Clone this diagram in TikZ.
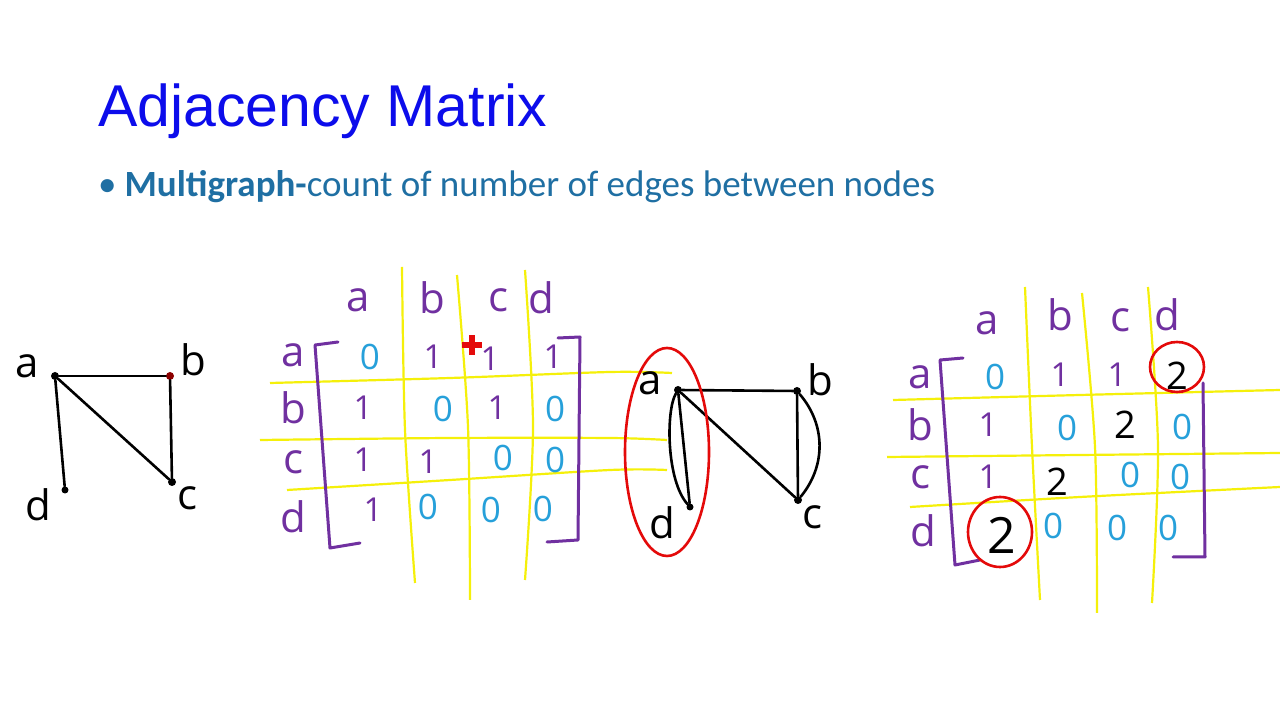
\documentclass[tikz,border=0pt]{standalone}
\usepackage{fontspec}
\setmainfont{Liberation Sans}
\newfontfamily\calfont{Carlito}
\newfontfamily\handfont{Open Sans}
\usetikzlibrary{positioning}
\definecolor{ttlblue}{RGB}{12,12,235}
\definecolor{subblue}{RGB}{31,111,163}
\definecolor{mpurple}{RGB}{112,48,160}
\definecolor{mcyan}{RGB}{38,160,218}
\definecolor{myellow}{RGB}{245,240,10}
\definecolor{mred}{RGB}{228,10,10}
\tikzset{
  lbl/.style={text=mpurple,font=\handfont\fontsize{42}{46}\selectfont,inner sep=0pt},
  one/.style={text=mpurple,font=\handfont\fontsize{33}{36}\selectfont,inner sep=0pt},
  zer/.style={text=mcyan,font=\handfont\fontsize{35}{38}\selectfont,inner sep=0pt},
  two/.style={text=black,font=\handfont\fontsize{38}{42}\selectfont,inner sep=0pt},
  glbl/.style={text=black,font=\handfont\fontsize{42}{46}\selectfont,inner sep=0pt},
  vtx/.style={circle,fill=black,inner sep=0pt,minimum size=8pt},
  edg/.style={line width=2.6pt,line cap=round,line join=round},
  ylin/.style={myellow,line width=2.2pt},
  brk/.style={mpurple,line width=3pt,line join=round,line cap=round},
  hil/.style={mred,line width=2.6pt}
}

\begin{document}
\begin{tikzpicture}[x=1pt,y=1pt]
  \fill[white] (0,0) rectangle (1280,720);
  \useasboundingbox (0,0) rectangle (1280,720);

  % heading
  \node[anchor=base west,inner sep=0pt,text=ttlblue,font=\fontsize{59}{64}\selectfont] (title) at (98,593) {Adjacency Matrix};
  \node[anchor=base west,inner sep=0pt,text=subblue,font=\calfont\fontsize{37}{42}\selectfont] (sub) at (98,523)
    {\textbullet\hskip 8pt\textbf{Multigraph-}count of number of edges between nodes};

  % simple graph
  \node[vtx] (ga) at (55,344) {};
  \node[vtx,fill=red!55!black] (gb) at (170,344) {};
  \node[vtx] (gc) at (172,238) {};
  \node[vtx,minimum size=7pt] (gd) at (65,230) {};
  \node[glbl] at (27,354) {a};
  \node[glbl] at (193,360) {b};
  \node[glbl] at (187,222) {c};
  \node[glbl] at (38,215) {d};
  \draw[edg] (ga)--(gb);
  \draw[edg] (ga)--(gc);
  \draw[edg] (gb)--(gc);
  \draw[edg] (ga)--(gd);

  % grid lines, first matrix
  \draw[ylin] plot[smooth] coordinates {(402,453) (405,290) (415,137)};
  \draw[ylin] plot[smooth] coordinates {(457,445) (468,293) (470,120)};
  \draw[ylin] plot[smooth] coordinates {(525,450) (533,293) (525,140)};
  \draw[ylin] plot[smooth] coordinates {(270,337) (450,342) (610,348) (672,347)};
  \draw[ylin] plot[smooth] coordinates {(260,280) (450,282) (610,282) (667,280)};
  \draw[ylin] plot[smooth] coordinates {(287,230) (450,240) (610,250) (667,250)};

  % first matrix
  \node[lbl] (m1ha) at (358,420) {a};
  \node[lbl] (m1hb) at (432,422) {b};
  \node[lbl] (m1hc) at (498,420) {c};
  \node[lbl] (m1hd) at (541,422) {d};
  \node[lbl] (m1ra) at (293,365) {a};
  \node[lbl] (m1rb) at (293,312) {b};
  \node[lbl] (m1rc) at (293,258) {c};
  \node[lbl] (m1rd) at (293,203) {d};
  \node[zer] (m1aa) at (370,363) {0};
  \node[one] (m1ab) at (433,363) {1};
  \node[one] (m1ac) at (490,361) {1};
  \node[one] (m1ad) at (553,363) {1};
  \node[one] (m1ba) at (363,312) {1};
  \node[zer] (m1bb) at (443,311) {0};
  \node[one] (m1bc) at (497,312) {1};
  \node[zer] (m1bd) at (555,311) {0};
  \node[one] (m1ca) at (363,260) {1};
  \node[one] (m1cb) at (428,258) {1};
  \node[zer] (m1cc) at (503,262) {0};
  \node[zer] (m1cd) at (555,260) {0};
  \node[one] (m1da) at (373,210) {1};
  \node[zer] (m1db) at (428,213) {0};
  \node[zer] (m1dc) at (491,210) {0};
  \node[zer] (m1dd) at (543,211) {0};
  \draw[brk] (338,378)--(315,375)--(330,172)--(360,177);
  \draw[brk] (558,382)--(580,383)--(578,180)--(547,178);
  \draw[mred,line width=6pt] (462,375)--(482,375) (472,365)--(472,385);

  % multigraph
  \node[vtx] (ma) at (678,330) {};
  \node[vtx] (mb) at (797,329) {};
  \node[vtx] (mc) at (798,220) {};
  \node[vtx,minimum size=7pt] (md) at (690,213) {};
  \node[glbl] at (650,337) {a};
  \node[glbl] at (820,340) {b};
  \node[glbl] at (812,203) {c};
  \node[glbl] at (662,197) {d};
  \draw[edg] (ma)--(mb);
  \draw[edg] (ma)--(mc);
  \draw[edg] (mb)--(mc);
  \draw[edg] (mb) to[bend left=40] (mc);
  \draw[edg] (ma)--(md);
  \draw[edg] (ma) .. controls (666,310) and (666,240) .. (md);
  \draw[hil] (667,268) ellipse [x radius=42,y radius=104];

  % grid lines, second matrix
  \draw[ylin] plot[smooth] coordinates {(1025,433) (1032,273) (1040,120)};
  \draw[ylin] plot[smooth] coordinates {(1082,427) (1095,273) (1097,107)};
  \draw[ylin] plot[smooth] coordinates {(1148,433) (1158,273) (1152,117)};
  \draw[ylin] plot[smooth] coordinates {(893,320) (1080,325) (1280,330)};
  \draw[ylin] plot[smooth] coordinates {(887,263) (1080,265) (1280,267)};
  \draw[ylin] plot[smooth] coordinates {(910,213) (1080,223) (1280,233)};

  % second matrix
  \node[lbl] (m2ha) at (987,397) {a};
  \node[lbl] (m2hb) at (1060,405) {b};
  \node[lbl] (m2hc) at (1120,400) {c};
  \node[lbl] (m2hd) at (1167,405) {d};
  \node[lbl] (m2ra) at (920,343) {a};
  \node[lbl] (m2rb) at (920,295) {b};
  \node[lbl] (m2rc) at (920,243) {c};
  \node[lbl] (m2rd) at (923,189) {d};
  \node[zer] (m2aa) at (995,343) {0};
  \node[one] (m2ab) at (1060,345) {1};
  \node[one] (m2ac) at (1117,345) {1};
  \node[two] (m2ad) at (1177,344) {2};
  \node[one] (m2ba) at (988,295) {1};
  \node[zer] (m2bb) at (1067,292) {0};
  \node[two] (m2bc) at (1125,295) {2};
  \node[zer] (m2bd) at (1182,293) {0};
  \node[one] (m2ca) at (988,243) {1};
  \node[two] (m2cb) at (1057,238) {2};
  \node[zer] (m2cc) at (1130,245) {0};
  \node[zer] (m2cd) at (1180,243) {0};
  \node[two,font=\handfont\fontsize{50}{54}\selectfont] (m2da) at (1002,185) {2};
  \node[zer] (m2db) at (1053,194) {0};
  \node[zer] (m2dc) at (1117,192) {0};
  \node[zer] (m2dd) at (1168,192) {0};
  \draw[brk] (963,362)--(940,360)--(955,155)--(980,160);
  \draw[brk] (1203,337)--(1205,163)--(1173,163);
  \draw[hil] (1177,353) ellipse [x radius=27,y radius=25];
  \draw[hil] (1000,188) ellipse [x radius=32,y radius=35];
\end{tikzpicture}
\end{document}
